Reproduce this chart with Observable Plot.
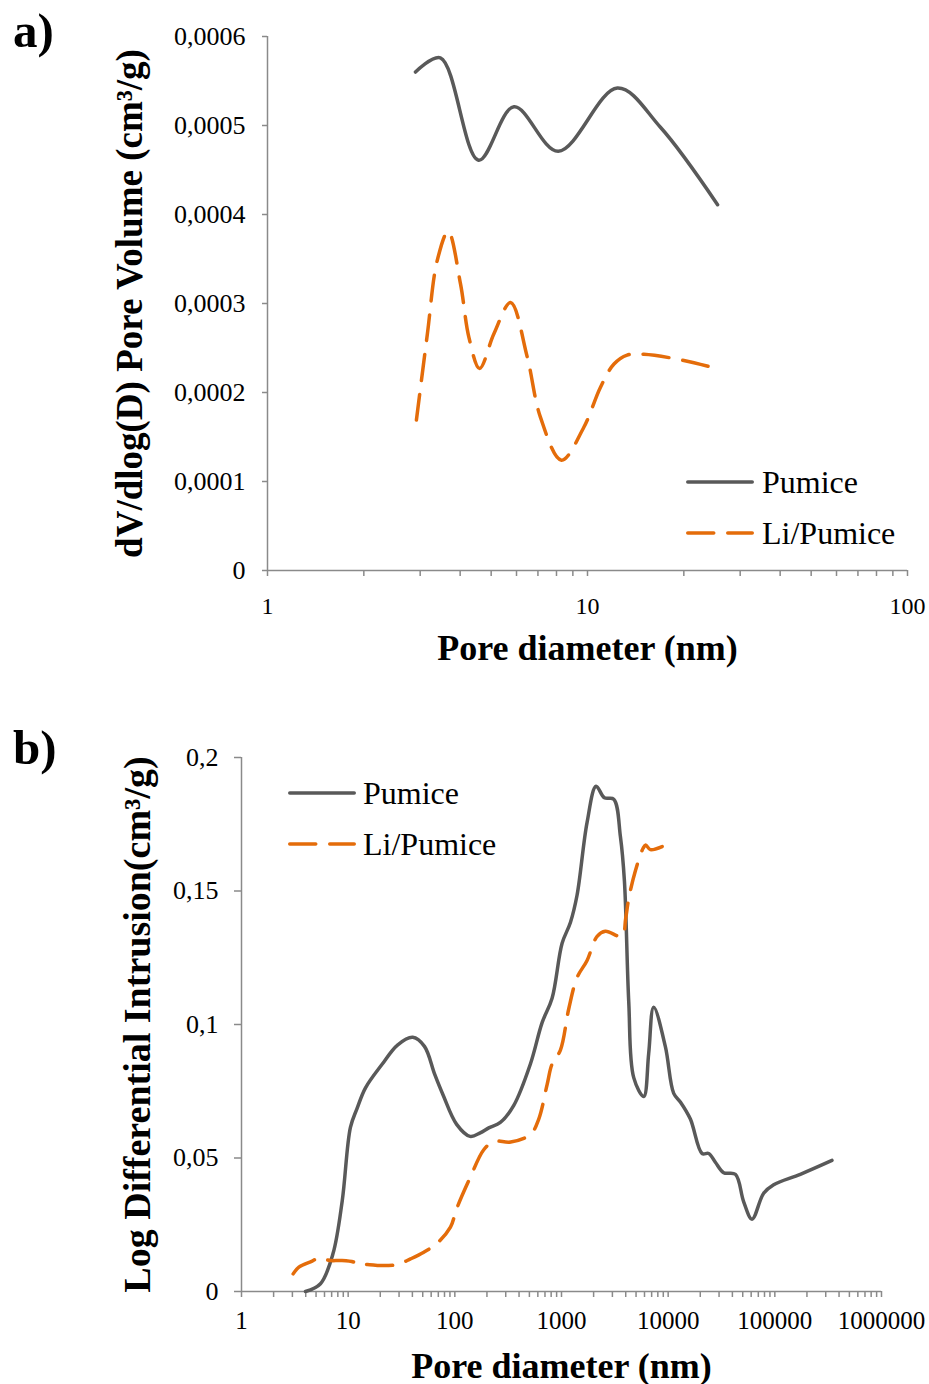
<!DOCTYPE html>
<html><head><meta charset="utf-8">
<script src="https://cdn.jsdelivr.net/npm/d3@7"></script>
<script src="https://cdn.jsdelivr.net/npm/@observablehq/plot@0.6"></script>
<style>
html,body{margin:0;padding:0;background:#fff;}
body{font-family:"Liberation Serif","Times New Roman",serif;color:#000;}
#wrap{position:relative;width:929px;height:1384px;overflow:hidden;}
.panel{position:absolute;left:0;}
.panel svg{display:block;}
.tag{position:absolute;left:13px;font-weight:bold;font-size:49px;line-height:49px;}
.leg{position:absolute;font-size:32px;line-height:32px;white-space:nowrap;}
[aria-label="x-axis label"] text{font-size:36px;font-weight:bold;}
.pa [aria-label="y-axis label"] text{font-size:37px;font-weight:bold;}
.pb [aria-label="y-axis label"] text{font-size:38px;font-weight:bold;}
</style></head>
<body><div id="wrap"></div>
<script>
// ---------- Panel a) BJH pore size distribution ----------
const aPumiceD = [2.90, 3.47, 4.57, 5.89, 8.10, 12.4, 16.9, 25.5];
const aPumiceV = [0.000560, 0.000576, 0.000461, 0.000521, 0.000471, 0.000542, 0.000498, 0.000411];
const aLiD = [2.92, 3.16, 3.39, 3.67, 4.01, 4.26, 4.60, 5.10, 5.75, 6.48, 7.13, 8.29, 9.74, 10.98, 12.1, 13.3, 15.0, 20.0, 25.9];
const aLiV = [0.000169, 0.000266, 0.000348, 0.000381, 0.000322, 0.000262, 0.000227, 0.000266, 0.000301, 0.000240, 0.000172, 0.000124, 0.000161, 0.000206, 0.000232, 0.000242, 0.000243, 0.000236, 0.000226];
const aXMajor = [1, 10, 100];
const aXMinor = [2, 3, 4, 5, 6, 7, 8, 9, 20, 30, 40, 50, 60, 70, 80, 90];
const aYTicks = [0, 0.0001, 0.0002, 0.0003, 0.0004, 0.0005, 0.0006];

// ---------- Panel b) Mercury intrusion ----------
const bPumiceD = [3.98, 5.5, 7.2, 8.8, 10.5, 12.1, 14.5, 20.9, 29, 40.3, 51.9, 64.8, 77.6, 104, 139, 173, 208, 267, 357, 511, 658, 816, 1013, 1212, 1400, 1737, 2110, 2524, 3089, 3566, 3890, 4270, 4755, 5900, 6566, 7313, 9414, 11270, 13010, 16150, 20780, 23990, 27690, 33140, 42650, 51050, 61120, 78560, 97500, 173400, 343500];
const bPumiceV = [0.0000, 0.0029, 0.0141, 0.0340, 0.0615, 0.0685, 0.0762, 0.0852, 0.0923, 0.0952, 0.0918, 0.0813, 0.0736, 0.0626, 0.0581, 0.0594, 0.0613, 0.0633, 0.0697, 0.0852, 0.1007, 0.1098, 0.1304, 0.1382, 0.1485, 0.1757, 0.1892, 0.1849, 0.1844, 0.1704, 0.1537, 0.1085, 0.0801, 0.0730, 0.0891, 0.1065, 0.0917, 0.0742, 0.0710, 0.0646, 0.0517, 0.0517, 0.0484, 0.0445, 0.0439, 0.0336, 0.0271, 0.0368, 0.0400, 0.0439, 0.0491];
const bLiD = [3.05, 3.45, 4.6, 5.3, 6.8, 8.5, 11.3, 12.5, 15.1, 20.1, 28.8, 38.4, 51.2, 68.2, 91, 104, 139, 186, 232, 334, 511, 612, 733, 816, 977, 1170, 1400, 1737, 2157, 2578, 3699, 3990, 4270, 4930, 5820, 6150, 6810, 9080];
const bLiV = [0.0066, 0.0091, 0.0114, 0.0126, 0.0116, 0.0116, 0.0110, 0.0099, 0.0101, 0.0097, 0.0101, 0.0122, 0.0147, 0.0181, 0.0241, 0.0310, 0.0426, 0.0530, 0.0562, 0.0560, 0.0588, 0.0646, 0.0775, 0.0852, 0.0904, 0.1059, 0.1176, 0.1240, 0.1330, 0.1349, 0.1330, 0.1395, 0.1472, 0.1576, 0.1660, 0.1672, 0.1655, 0.1669];
const bXMajor = [1, 10, 100, 1000, 10000, 100000, 1000000];
const bXMinor = [];
for (let e = 0; e < 6; e++) for (let m = 2; m <= 9; m++) bXMinor.push(m * Math.pow(10, e));
const bYTicks = [0, 0.05, 0.1, 0.15, 0.2];

const seriesNames = ["Pumice", "Li/Pumice"];
const seriesColors = ["#595959", "#E46C0A"];
const axisColor = "#8a8a8a";
const dash = "26,14";

function rows(ds, vs, name) { return ds.map((d, i) => ({d, v: vs[i], series: name})); }
const fmt = d => String(d).replace(".", ",");

function panel(cfg) {
  const data = rows(cfg.pD, cfg.pV, seriesNames[0]).concat(rows(cfg.lD, cfg.lV, seriesNames[1]));
  return Plot.plot({
    width: 929, height: cfg.height,
    marginTop: cfg.mt, marginBottom: cfg.mb, marginLeft: cfg.ml, marginRight: cfg.mr,
    style: {fontFamily: '"Liberation Serif","Times New Roman",serif', background: "white", color: "black", overflow: "visible"},
    x: {type: "log", domain: cfg.xDomain},
    y: {domain: cfg.yDomain},
    marks: [
      Plot.axisX({ticks: cfg.xMajor, tickFormat: d => String(d), tickSize: 6, tickPadding: cfg.xPad, fontSize: cfg.xFont, stroke: axisColor, strokeWidth: 1.5,
        label: "Pore diameter (nm)", labelAnchor: "center", labelOffset: cfg.xLabelOffset, labelArrow: false}),
      Plot.axisX({ticks: cfg.xMinor, tickFormat: () => "", tickSize: 6, stroke: axisColor, strokeWidth: 1.5, label: null}),
      Plot.axisY({ticks: cfg.yTicks, tickFormat: fmt, tickSize: cfg.yTick, tickPadding: cfg.yPad, fontSize: 26, stroke: axisColor, strokeWidth: 1.5,
        label: cfg.yLabel, labelAnchor: "center", labelOffset: cfg.yLabelOffset, labelArrow: false}),
      Plot.ruleY([cfg.yDomain[0]], {stroke: axisColor, strokeWidth: 1.5}),
      Plot.ruleX([cfg.xDomain[0]], {stroke: axisColor, strokeWidth: 1.5}),
      Plot.line(data.filter(r => r.series === seriesNames[0]), {x: "d", y: "v", stroke: seriesColors[0], strokeWidth: 3.5, curve: cfg.curve, strokeLinecap: "round", strokeLinejoin: "round"}),
      Plot.line(data.filter(r => r.series === seriesNames[1]), {x: "d", y: "v", stroke: seriesColors[1], strokeWidth: 3.5, curve: cfg.curve, strokeDasharray: dash, strokeLinecap: "round", strokeLinejoin: "round"})
    ]
  });
}

const wrap = document.getElementById("wrap");

function addPanel(top, svg, tag, cls, legend) {
  const div = document.createElement("div");
  div.className = "panel " + cls;
  div.style.top = top + "px";
  div.appendChild(svg);
  wrap.appendChild(div);
  const t = document.createElement("div");
  t.className = "tag";
  t.style.top = (legend.tagTop) + "px";
  t.textContent = tag;
  wrap.appendChild(t);
  seriesNames.forEach((name, i) => {
    const y = legend.y0 + i * legend.step;
    const ns = "http://www.w3.org/2000/svg";
    const s = document.createElementNS(ns, "svg");
    s.setAttribute("width", legend.len + 6);
    s.setAttribute("height", 10);
    s.style.position = "absolute";
    s.style.left = (legend.x - 3) + "px";
    s.style.top = (y - 5) + "px";
    const l = document.createElementNS(ns, "line");
    l.setAttribute("x1", 3 + 1.75); l.setAttribute("x2", 3 + legend.len - 1.75);
    l.setAttribute("y1", 5); l.setAttribute("y2", 5);
    l.setAttribute("stroke", seriesColors[i]);
    l.setAttribute("stroke-width", 3.5);
    l.setAttribute("stroke-linecap", "round");
    if (i === 1) l.setAttribute("stroke-dasharray", dash);
    s.appendChild(l);
    wrap.appendChild(s);
    const tx = document.createElement("div");
    tx.className = "leg";
    tx.style.left = legend.tx + "px";
    tx.style.top = (y - 16) + "px";
    tx.textContent = name;
    wrap.appendChild(tx);
  });
}

const A = panel({height: 680, mt: 36, mb: 110, ml: 267, mr: 22,
  pD: aPumiceD, pV: aPumiceV, lD: aLiD, lV: aLiV,
  xDomain: [1, 100], yDomain: [0, 0.0006], xMajor: aXMajor, xMinor: aXMinor, yTicks: aYTicks,
  xPad: 20, xFont: 24, xLabelOffset: 89, yTick: 5, yPad: 17,
  yLabel: "dV/dlog(D) Pore Volume (cm³/g)", yLabelOffset: 152, curve: "catmull-rom"});
addPanel(0, A, "a)", "pa", {tagTop: 6, x: 686, len: 68, y0: 482, step: 51, tx: 762});

const B = panel({height: 704, mt: 77, mb: 93, ml: 241, mr: 48,
  pD: bPumiceD, pV: bPumiceV, lD: bLiD, lV: bLiV,
  xDomain: [1, 1000000], yDomain: [0, 0.2], xMajor: bXMajor, xMinor: bXMinor, yTicks: bYTicks,
  xPad: 14, xFont: 25, xLabelOffset: 86, yTick: 7, yPad: 16,
  yLabel: "Log Differential Intrusion(cm³/g)", yLabelOffset: 118, curve: "catmull-rom"});
addPanel(680, B, "b)", "pb", {tagTop: 723, x: 288, len: 68, y0: 793, step: 51, tx: 363});
</script>
</body></html>
